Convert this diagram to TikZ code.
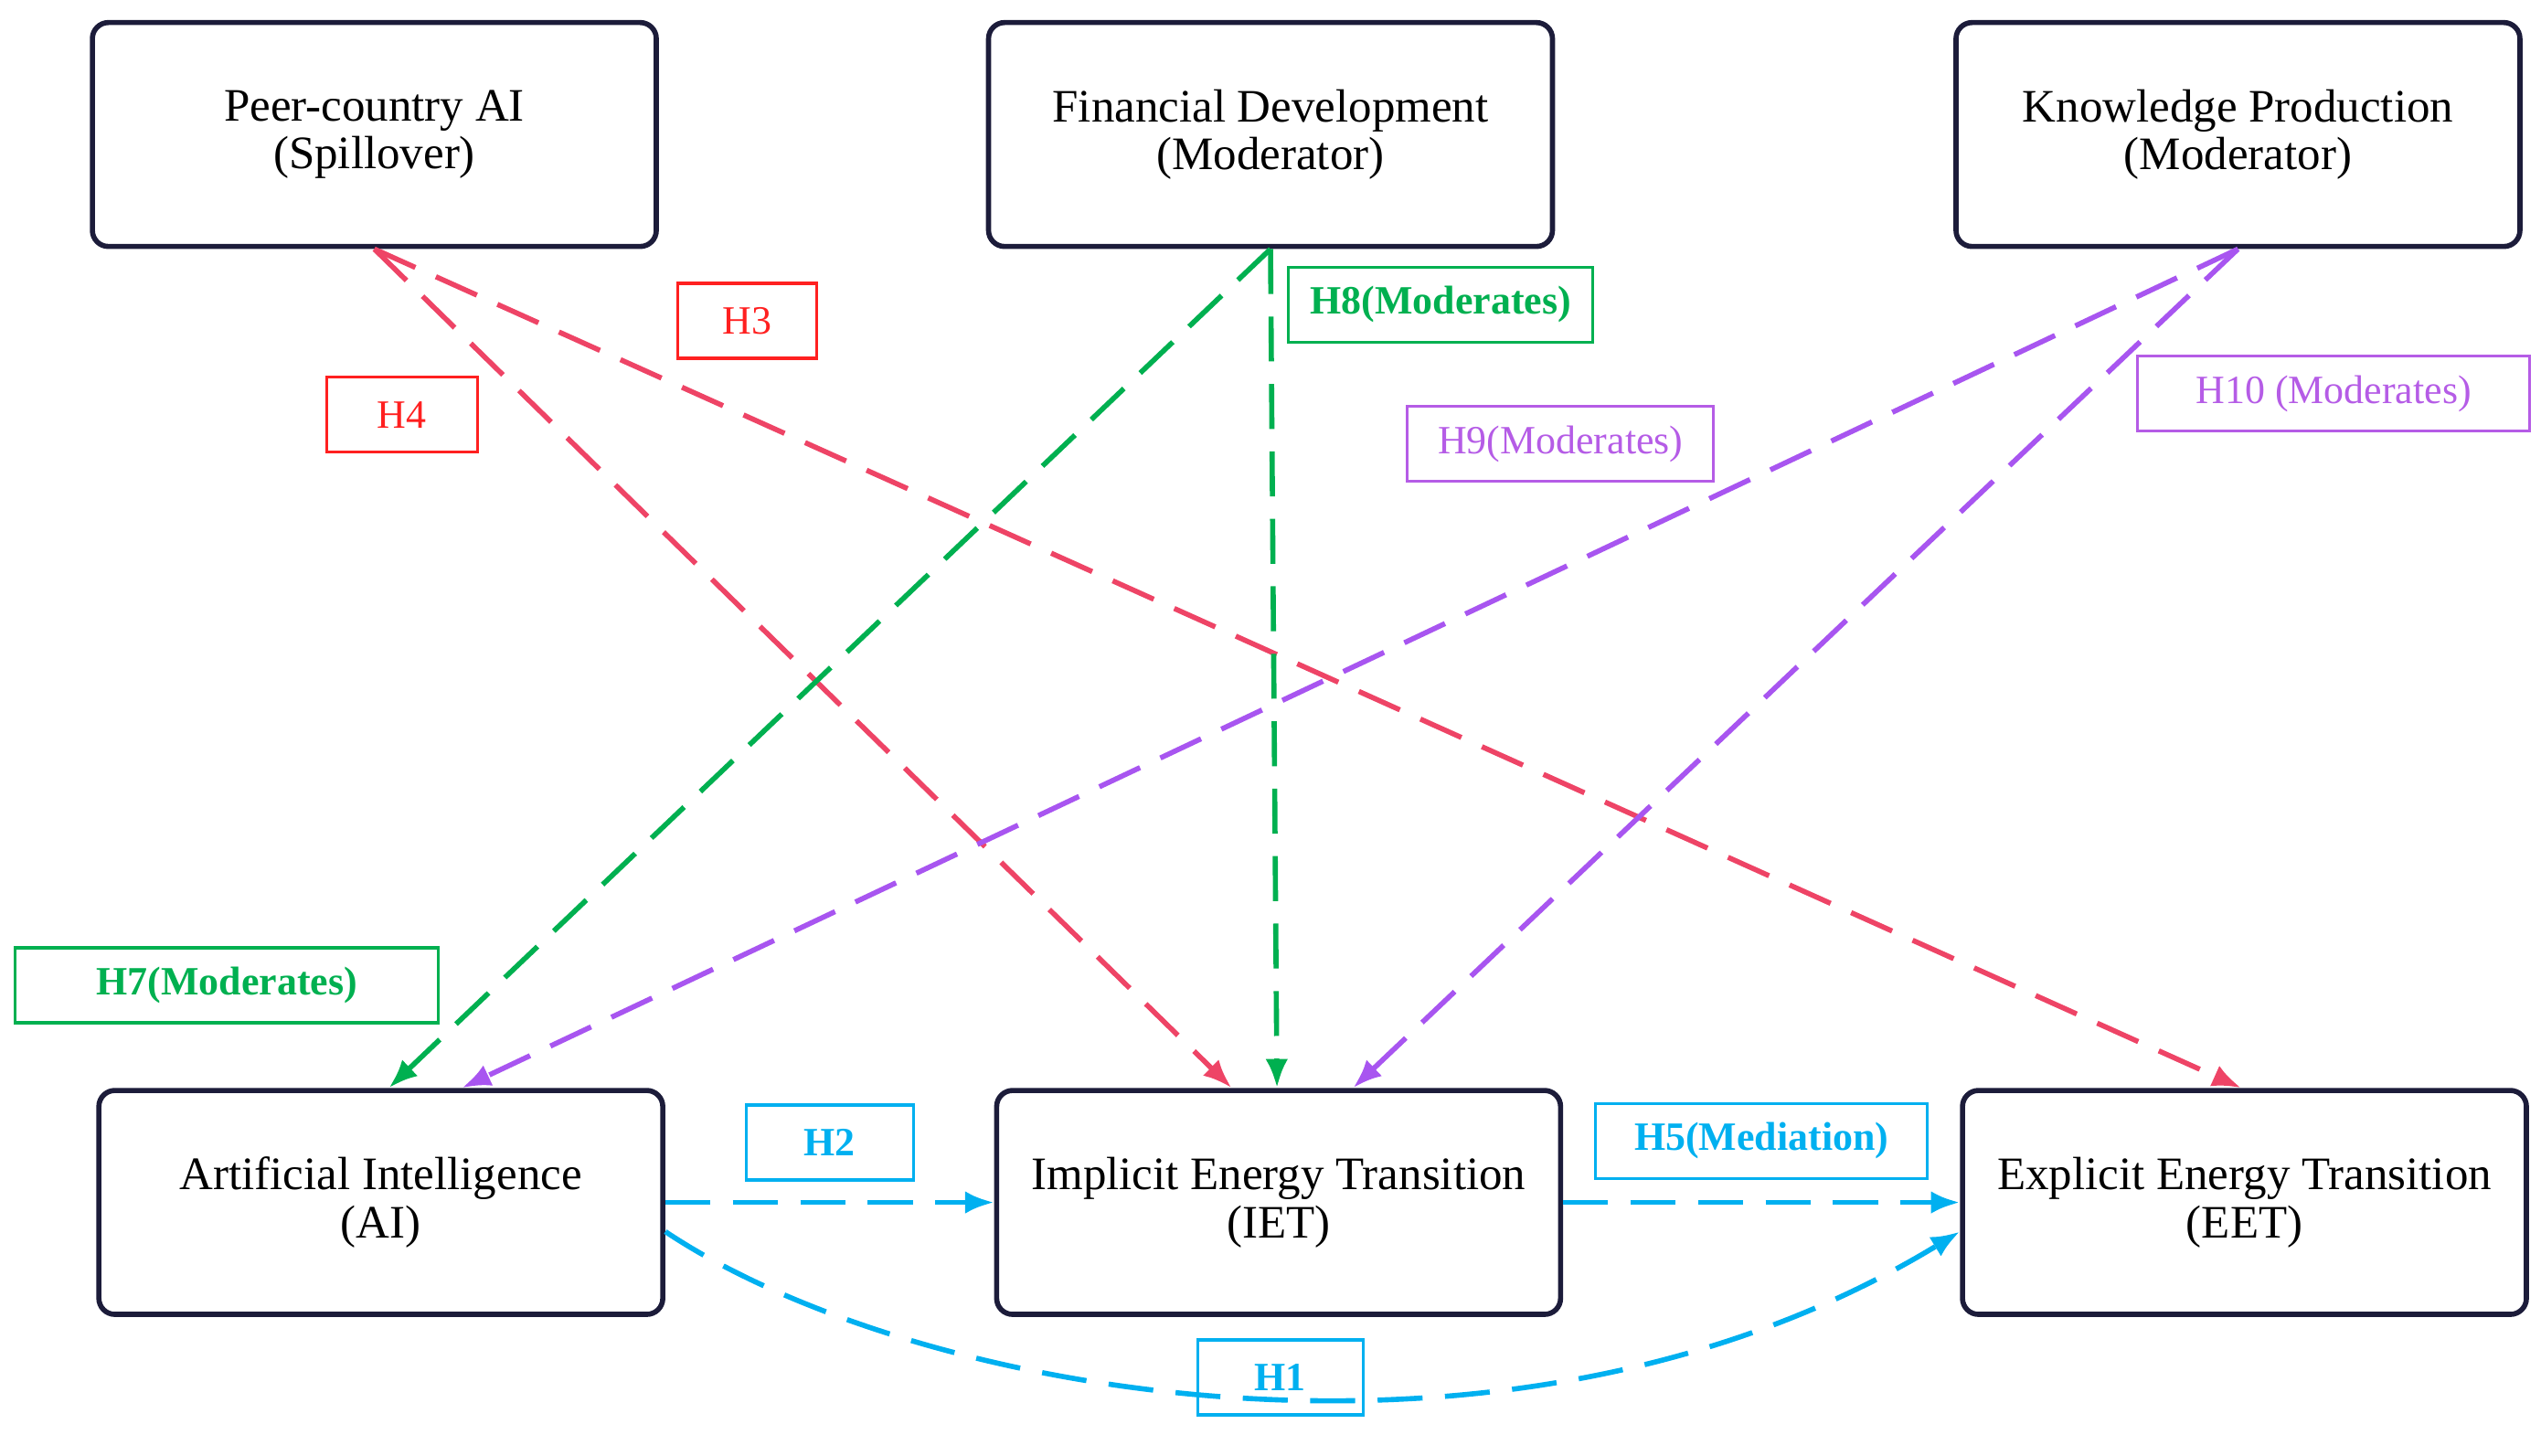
\documentclass[tikz,border=0pt]{standalone}
\usepackage{fontspec}
\setmainfont{Liberation Serif}
\usetikzlibrary{positioning,arrows.meta,calc}
\definecolor{navy1}{HTML}{1C1C3A}
\definecolor{red1}{HTML}{EE4466}
\definecolor{red2}{HTML}{FF2020}
\definecolor{green1}{HTML}{00B050}
\definecolor{purple1}{HTML}{A855F0}
\definecolor{purple2}{HTML}{B55CE6}
\definecolor{cyan1}{HTML}{00B0F0}

\begin{document}
\begin{tikzpicture}[
    x=0.01773cm, y=-0.01773cm,
    >={Latex[length=9pt,width=7pt]},
    box/.style={draw=navy1, rounded corners=5pt, line width=1.6pt,
                minimum width=6.17cm, minimum height=2.45cm,
                align=center, font=\fontsize{14.5}{15}\selectfont},
    hyp/.style={draw, line width=0.9pt, inner sep=0pt,
                minimum height=0.82cm, font=\fontsize{12.5}{13}\selectfont},
    arr/.style={->, line width=1.6pt, dash pattern=on 14pt off 7pt},
]
\useasboundingbox (0,0) rectangle (1568,898);

% top row
\node[box] (peer) at (231,83) {Peer-country AI\\(Spillover)};
\node[box] (fin) at (784,83) {Financial Development\\(Moderator)};
\node[box] (know) at (1381,83) {Knowledge Production\\(Moderator)};

% bottom row
\node[box] (ai) at (235,742) {Artificial Intelligence\\(AI)};
\node[box] (iet) at (789,742) {Implicit Energy Transition\\(IET)};
\node[box] (eet) at (1385,742) {Explicit Energy Transition\\(EET)};

% spillover
\draw[arr, red1] (peer.south) -- ($(iet.north)+(-29,0)$);
\draw[arr, red1] (peer.south) -- ($(eet.north)+(-2,0)$);

% moderators
\draw[arr, green1] (fin.south) -- ($(ai.north)+(5,0)$);
\draw[arr, green1] (fin.south) -- ($(iet.north)+(-1,0)$);
\draw[arr, purple1] (know.south) -- ($(ai.north)+(50,0)$);
\draw[arr, purple1] (know.south) -- ($(iet.north)+(46,0)$);

% direct and mediated paths
\draw[arr, cyan1] (ai.east) -- (iet.west);
\draw[arr, cyan1] (iet.east) -- (eet.west);
\draw[arr, cyan1] ($(ai.east)+(0,18)$) .. controls (560,860) and (930,930) .. ($(eet.west)+(0,18)$);

% hypothesis labels
\node[hyp, red2, minimum width=1.52cm] (h3) at (461,198) {H3};
\node[hyp, red2, minimum width=1.65cm] (h4) at (248,256) {H4};
\node[hyp, green1, minimum width=3.33cm, font=\bfseries\fontsize{12.5}{13}\selectfont] (h8) at (889,188) {H8(Moderates)};
\node[hyp, purple2, minimum width=3.35cm] (h9) at (963,274) {H9(Moderates)};
\node[hyp, purple2, minimum width=4.29cm] (h10) at (1440,243) {H10 (Moderates)};
\node[hyp, green1, minimum width=4.63cm, font=\bfseries\fontsize{12.5}{13}\selectfont] (h7) at (140,608) {H7(Moderates)};
\node[hyp, cyan1, minimum width=1.83cm, font=\bfseries\fontsize{12.5}{13}\selectfont] (h2) at (512,705) {H2};
\node[hyp, cyan1, minimum width=3.63cm, font=\bfseries\fontsize{12.5}{13}\selectfont] (h5) at (1087,704) {H5(Mediation)};
\node[hyp, cyan1, minimum width=1.81cm, font=\bfseries\fontsize{12.5}{13}\selectfont] (h1) at (790,850) {H1};
\end{tikzpicture}
\end{document}
